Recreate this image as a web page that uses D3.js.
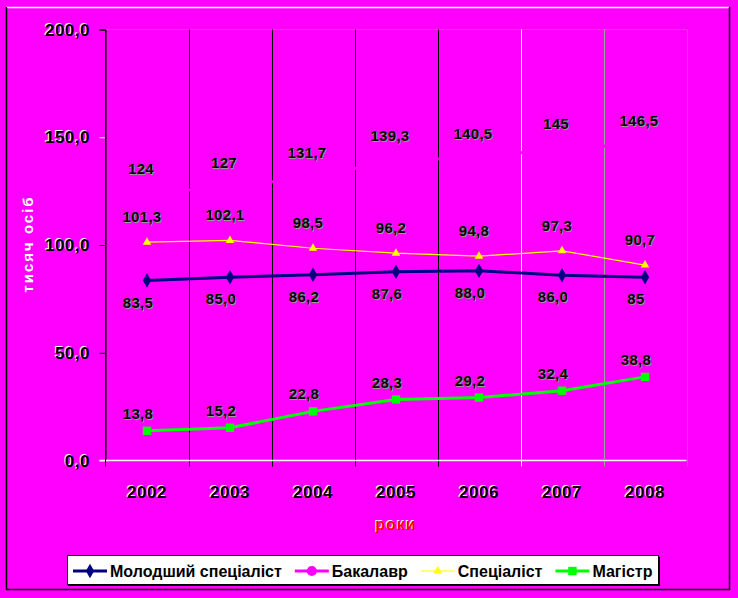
<!DOCTYPE html>
<html>
<head>
<meta charset="utf-8">
<script src="https://cdn.jsdelivr.net/npm/d3@7"></script>
<style>
html,body{margin:0;padding:0;background:#FF00FF;}
svg{display:block;}
text{font-family:"Liberation Sans",Arial,sans-serif;font-weight:bold;}
</style>
</head>
<body>
<svg id="chart" width="738" height="598"></svg>
<script>
// ---- data ----
const years = ["2002","2003","2004","2005","2006","2007","2008"];
const molodshyi = [83.5, 85.0, 86.2, 87.6, 88.0, 86.0, 85];
const molodshyiLabels = ["83,5","85,0","86,2","87,6","88,0","86,0","85"];
const bakalavr = [124, 127, 131.7, 139.3, 140.5, 145, 146.5];
const bakalavrLabels = ["124","127","131,7","139,3","140,5","145","146,5"];
const spetsialist = [101.3, 102.1, 98.5, 96.2, 94.8, 97.3, 90.7];
const spetsialistLabels = ["101,3","102,1","98,5","96,2","94,8","97,3","90,7"];
const mahistr = [13.8, 15.2, 22.8, 28.3, 29.2, 32.4, 38.8];
const mahistrLabels = ["13,8","15,2","22,8","28,3","29,2","32,4","38,8"];
const yTicks = [0, 50, 100, 150, 200];
const yTickLabels = ["0,0","50,0","100,0","150,0","200,0"];
const seriesNames = ["Молодший спеціаліст","Бакалавр","Спеціаліст","Магістр"];
const yTitle = "тисяч осіб";
const xTitle = "роки";

// ---- styles ----
const series = [
  {name: seriesNames[0], values: molodshyi, labels: molodshyiLabels, color:"#000080", width:3, marker:d3.symbolDiamond, msize:60, ldy:21, ldx:-9},
  {name: seriesNames[1], values: bakalavr, labels: bakalavrLabels, color:"#FF00FF", width:3, marker:d3.symbolCircle, msize:80, ldy:-25, ldx:-6},
  {name: seriesNames[2], values: spetsialist, labels: spetsialistLabels, color:"#FFFF00", width:1.2, marker:d3.symbolTriangle, msize:32, ldy:-26, ldx:-5},
  {name: seriesNames[3], values: mahistr, labels: mahistrLabels, color:"#00FF00", width:3, marker:d3.symbolSquare, msize:70, ldy:-18, ldx:-9}
];

const svg = d3.select("#chart");
const W = 738, H = 598;
svg.append("rect").attr("width",W).attr("height",H).attr("fill","#FF00FF");

// outer frame
svg.append("line").attr("x1",6).attr("x2",729).attr("y1",7.5).attr("y2",7.5).attr("stroke","#fff").attr("stroke-width",1.5);
svg.append("line").attr("x1",6.5).attr("x2",6.5).attr("y1",7).attr("y2",590).attr("stroke","#000").attr("stroke-width",1.5);
svg.append("line").attr("x1",729.5).attr("x2",729.5).attr("y1",7).attr("y2",590).attr("stroke","#000").attr("stroke-width",1.5);
svg.append("line").attr("x1",6).attr("x2",730).attr("y1",589.5).attr("y2",589.5).attr("stroke","#000").attr("stroke-width",1.5);

const pLeft = 105.5, pRight = 686.5, pTop = 29.5, pBottom = 460.5;
const x = d3.scaleBand().domain(years).range([pLeft, pRight]);
const y = d3.scaleLinear().domain([0, 200]).range([pBottom, pTop]);
const cx = d => x(d) + x.bandwidth()/2;

// plot border (top gray)
svg.append("line").attr("x1",pLeft).attr("x2",pRight).attr("y1",pTop).attr("y2",pTop).attr("stroke","#808080");
// vertical gridlines at category boundaries
const gridColors = ["#000","#000","#000","#000","#000","#fff","#a0a0a0","#808080"];
const bounds = years.map(d => x(d)).concat([pRight]);
bounds.forEach((b,i) => {
  if (i === 0) return;
  svg.append("line").attr("x1",Math.round(b)+0.5).attr("x2",Math.round(b)+0.5)
    .attr("y1",pTop).attr("y2",pBottom+6).attr("stroke",gridColors[i]).attr("stroke-width",1);
});

// y axis
const yAxis = d3.axisLeft(y).tickValues(yTicks).tickSize(6).tickFormat(()=>"");
const gy = svg.append("g").attr("transform",`translate(${pLeft},0)`).call(yAxis);
gy.select(".domain").attr("stroke","#000").attr("stroke-width",1);
gy.selectAll(".tick line").attr("stroke",(d)=> (d===150||d===0) ? "#fff" : "#000");
// x axis line at 0 (white)
const xAxis = d3.axisBottom(x).tickSize(0).tickFormat(()=>"");
const gx = svg.append("g").attr("transform",`translate(0,${pBottom})`).call(xAxis);
gx.select(".domain").attr("stroke","#fff").attr("stroke-width",1.5).attr("d",`M${pLeft-6},0H${pRight}`);
svg.append("line").attr("x1",pLeft).attr("x2",pLeft).attr("y1",pTop).attr("y2",pBottom+6).attr("stroke","#000");

// shadowed text helper
function sText(g, tx, ty, str, opts) {
  const o = Object.assign({size:16, anchor:"middle", fill:"#000", shadow:"#fff", dx:-1, dy:-1, ls:1}, opts);
  g.append("text").attr("x",tx+o.dx).attr("y",ty+o.dy).attr("text-anchor",o.anchor)
    .attr("font-size",o.size).attr("fill",o.shadow).attr("letter-spacing",o.ls).text(str);
  g.append("text").attr("x",tx).attr("y",ty).attr("text-anchor",o.anchor)
    .attr("font-size",o.size).attr("fill",o.fill).attr("letter-spacing",o.ls).text(str);
}

// y tick labels
yTicks.forEach((v,i) => sText(svg, 90, y(v)+6, yTickLabels[i], {anchor:"end", size:17, ls:0.5}));
// x tick labels
years.forEach(d => sText(svg, cx(d), 498, d, {size:17, ls:0.5}));

// axis titles
svg.append("text").attr("transform",`translate(33,244) rotate(-90)`).attr("text-anchor","middle")
  .attr("font-size",15).attr("fill","#fff").attr("letter-spacing",2).text(yTitle);
sText(svg, 396, 530, xTitle, {size:16, fill:"#FF0000", shadow:"#fff", dx:-1, dy:-1});

// lines
const line = d3.line().x((d,i)=>cx(years[i])).y(d=>y(d));
series.forEach(s => {
  svg.append("path").datum(s.values).attr("d",line).attr("fill","none")
    .attr("stroke",s.color).attr("stroke-width",s.width);
  svg.selectAll(null).data(s.values).enter().append("path")
    .attr("d",d3.symbol().type(s.marker).size(s.msize))
    .attr("transform",(d,i)=>`translate(${cx(years[i])},${y(d)})`)
    .attr("fill",s.color);
});
// data labels
series.forEach(s => {
  s.values.forEach((v,i) => {
    sText(svg, cx(years[i])+s.ldx, y(v)+s.ldy+6, s.labels[i], {size:15, fill:"#000", shadow:"#9a9a9a", dx:1, dy:1, ls:0.3});
  });
});

// legend
const lg = svg.append("g");
lg.append("rect").attr("x",68).attr("y",557).attr("width",592).attr("height",29).attr("fill","#000");
lg.append("rect").attr("x",67.5).attr("y",555.5).attr("width",591).attr("height",29).attr("fill","#fff").attr("stroke","#000");
let lx = 73;
series.forEach(s => {
  lg.append("line").attr("x1",lx).attr("x2",lx+34).attr("y1",571).attr("y2",571)
    .attr("stroke",s.color).attr("stroke-width",s.width);
  lg.append("path").attr("d",d3.symbol().type(s.marker).size(s.msize))
    .attr("transform",`translate(${lx+17},571)`).attr("fill",s.color);
  const t = lg.append("text").attr("x",lx+37).attr("y",577).attr("font-size",16)
    .attr("letter-spacing",0).attr("fill","#000").text(s.name);
  lx += 37 + t.node().getComputedTextLength() + 13;
});
</script>
</body>
</html>
